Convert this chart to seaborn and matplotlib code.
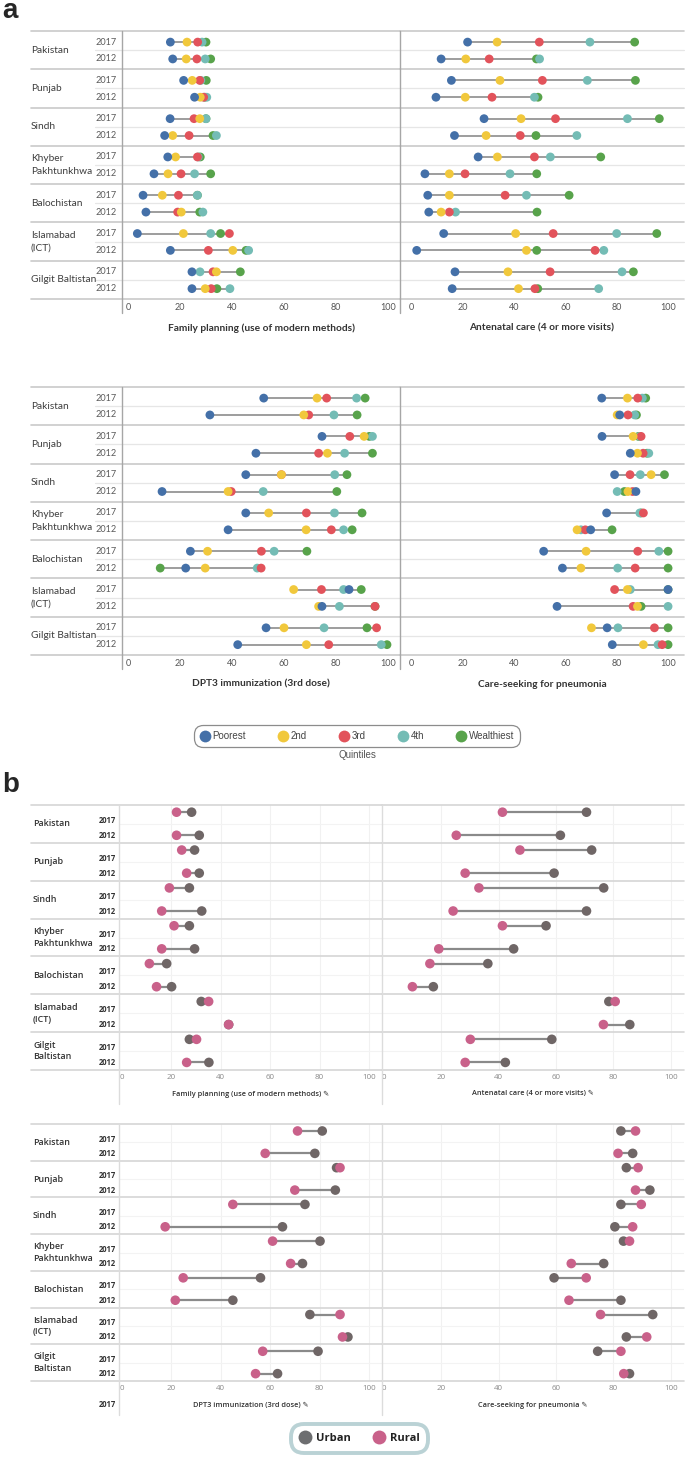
import numpy as np
import pandas as pd
import matplotlib.pyplot as plt
import seaborn as sns
from matplotlib import transforms
from matplotlib.lines import Line2D

nan = np.nan

# categories
regions_a = ["Pakistan", "Punjab", "Sindh", "Khyber\nPakhtunkhwa", "Balochistan",
             "Islamabad\n(ICT)", "Gilgit Baltistan"]
regions_b = ["Pakistan", "Punjab", "Sindh", "Khyber\nPakhtunkhwa", "Balochistan",
             "Islamabad\n(ICT)", "Gilgit\nBaltistan"]
years = ["2017", "2012"]
quintiles = ["Poorest", "2nd", "3rd", "4th", "Wealthiest"]
residence = ["Urban", "Rural"]
ticks = [0, 20, 40, 60, 80, 100]

# every list: Pakistan 2017, Pakistan 2012, Punjab 2017, Punjab 2012, ...
# panel a - family planning
fp = {
    "Poorest": [16.3, 17.2, 21.4, 25.6, 16.2, 14.1, 15.3, 10.0, 5.8, 6.9, 3.6, 16.3, 24.6, 24.6],
    "2nd": [22.7, 22.4, 24.7, 27.8, 27.6, 17.2, 18.3, 15.4, 13.2, 20.5, 21.3, 40.3, 34.0, 29.7],
    "3rd": [26.8, 26.5, 27.6, 29.1, 25.4, 23.5, 26.7, 20.4, 19.4, 19.1, 39.0, 30.9, 32.7, 32.0],
    "4th": [28.5, 29.7, 28.0, 30.3, 30.0, 34.0, 27.0, 25.6, 26.7, 28.8, 31.8, 46.4, 27.7, 39.2],
    "Wealthiest": [30.0, 31.8, 30.1, 29.5, 30.0, 32.7, 27.8, 31.8, 26.7, 27.6, 35.6, 45.4, 43.2, 34.2],
}
# panel a - antenatal care
anc = {
    "Poorest": [22.0, 11.7, 15.7, 9.7, 28.4, 16.9, 26.1, 5.4, 6.5, 6.9, 12.7, 2.2, 17.1, 16.0],
    "2nd": [33.5, 21.3, 34.6, 21.1, 42.8, 29.2, 33.6, 14.9, 14.9, 11.7, 40.7, 44.9, 37.7, 41.8],
    "3rd": [49.9, 30.4, 51.1, 31.5, 56.2, 42.5, 48.0, 21.0, 36.6, 14.9, 55.3, 71.6, 54.1, 48.2],
    "4th": [69.6, 50.0, 68.6, 48.0, 84.2, 64.5, 54.2, 38.5, 44.9, 17.3, 80.0, 75.0, 82.1, 73.0],
    "Wealthiest": [87.0, 48.8, 87.3, 49.4, 96.6, 48.6, 73.8, 48.9, 61.5, 49.0, 95.6, 48.9, 86.5, 49.3],
}
# panel a - DPT3
dpt = {
    "Poorest": [52.2, 31.5, 74.6, 49.2, 45.3, 13.1, 45.3, 38.5, 24.0, 22.2, 85.0, 74.6, 53.1, 42.2],
    "2nd": [72.7, 67.6, 90.8, 76.7, 59.0, 38.5, 54.1, 68.5, 30.6, 29.7, 63.7, 73.3, 60.0, 68.6],
    "3rd": [76.4, 69.5, 85.3, 73.3, 59.0, 39.7, 68.6, 78.2, 51.3, 51.2, 74.4, 95.0, 95.6, 77.2],
    "4th": [87.9, 79.2, 94.0, 83.3, 79.5, 52.0, 79.4, 82.9, 56.2, 49.7, 82.9, 81.3, 75.4, 97.4],
    "Wealthiest": [91.2, 88.1, 92.8, 94.0, 84.2, 80.3, 90.0, 86.2, 68.8, 12.4, 89.7, 95.0, 91.9, 99.6],
}
# panel a - pneumonia
pneu = {
    "Poorest": [74.2, 81.2, 74.3, 85.3, 79.2, 87.5, 76.1, 69.9, 51.6, 58.9, 100.0, 56.8, 76.3, 78.3],
    "2nd": [84.2, 80.2, 86.4, 88.1, 93.4, 84.4, nan, 64.6, 68.1, 66.1, 84.2, 88.1, 70.2, 90.4],
    "3rd": [88.2, 84.4, 89.5, 90.3, 85.2, 86.2, 90.4, 67.8, 88.2, 87.2, 79.2, 86.4, 94.7, 97.7],
    "4th": [90.0, 87.0, 89.0, 92.5, 89.2, 80.2, 89.0, 66.1, 96.4, 80.4, 85.3, 100.0, 80.5, 96.1],
    "Wealthiest": [91.3, 87.7, 88.5, 91.8, 98.6, 83.0, 89.5, 78.2, 100.0, 100.0, 100.0, 89.5, 100.0, 100.0],
}

# panel b - urban / rural
b_fp = {
    "Urban": [28.2, 31.3, 29.4, 31.3, 27.3, 32.3, 27.3, 29.4, 18.1, 20.1, 32.1, 43.2, 27.3, 35.2],
    "Rural": [22.1, 22.1, 24.2, 26.2, 19.2, 16.1, 21.1, 16.1, 11.1, 14.0, 35.1, 43.2, 30.2, 26.2],
}
b_anc = {
    "Urban": [70.6, 61.5, 72.4, 59.3, 76.6, 70.6, 56.5, 45.2, 36.2, 17.2, 78.4, 85.7, 58.5, 42.3],
    "Rural": [41.3, 25.2, 47.4, 28.3, 33.1, 24.1, 41.3, 19.1, 16.0, 9.9, 80.6, 76.5, 30.1, 28.3],
}
b_dpt = {
    "Urban": [81.1, 78.1, 86.9, 86.4, 74.1, 65.0, 80.2, 73.1, 56.1, 44.9, 76.1, 91.5, 79.4, 63.0],
    "Rural": [71.1, 58.0, 88.3, 70.0, 44.9, 17.5, 61.0, 68.3, 24.8, 21.6, 88.3, 89.3, 57.0, 54.1],
}
b_pneu = {
    "Urban": [82.6, 86.7, 84.5, 92.7, 82.6, 80.5, 83.5, 76.6, 59.3, 82.6, 93.7, 84.5, 74.5, 85.6],
    "Rural": [87.7, 81.6, 88.6, 87.7, 89.7, 86.7, 85.6, 65.3, 70.5, 64.5, 75.5, 91.6, 82.6, 83.6],
}

quint_colors = {"Poorest": "#4470a8", "2nd": "#f1c83c", "3rd": "#e2535b",
                "4th": "#74bcb5", "Wealthiest": "#58a34b"}
res_colors = {"Urban": "#6f6666", "Rural": "#c9618a"}

sns.set_theme(style="white")
plt.rcParams["font.family"] = ["Lato", "DejaVu Sans"]

W, H = 685, 1458
fig = plt.figure(figsize=(W / 100, H / 100), dpi=100)


def px_axes(x0, y0, x1, y1):
    ax = fig.add_axes([x0 / W, 1 - y1 / H, (x1 - x0) / W, (y1 - y0) / H])
    ax.set_facecolor("none")
    return ax


def long_frame(series, order, row_pos):
    rows = []
    for k in order:
        for i, v in enumerate(series[k]):
            rows.append({"group": k, "region": i // 2, "year": years[i % 2], "value": v})
    df = pd.DataFrame(rows).dropna()
    df["y"] = df["region"] + df["year"].map(row_pos)
    return df


def panel(box, xlim, df, order, palette, size, lw, lcolor, xlabel, style, labels=None):
    x0, y0, x1, y1 = box
    ax = px_axes(x0, y0, x1, y1)
    hgt = y1 - y0
    # connecting lines, min to max of each row
    g = df.groupby("y")["value"]
    ax.hlines(g.min().index, g.min(), g.max(), color=lcolor, lw=lw, zorder=2)
    sns.scatterplot(data=df, x="value", y="y", hue="group", hue_order=order,
                    palette=palette, s=size, edgecolor="none", linewidth=0,
                    legend=False, ax=ax, zorder=3)
    ax.set_xlim(xlim)
    ax.set_ylim(7, 0)
    ax.set_yticks([])
    ax.set_xticks(ticks)
    ax.set_xlabel("")
    ax.set_ylabel("")
    for s in ax.spines.values():
        s.set_visible(False)
    frac = lambda px: (px - x0) / (x1 - x0)
    left = frac(31) if labels is not None else 0
    if style == "a":
        ax.tick_params(axis="x", length=0, pad=3, labelsize=6.5, labelcolor="#555555")
        for i in range(8):
            ax.axhline(i, xmin=left, xmax=1, color="#c9c9c9", lw=1.2, clip_on=False, zorder=1)
        for i in range(7):
            ax.axhline(i + 0.5, xmin=frac(95) if labels is not None else 0, xmax=1,
                       color="#e6e6e6", lw=0.9, clip_on=False, zorder=1)
        ax.axvline(xlim[0], ymin=-14 / hgt, ymax=1, color="#a6a6a6", lw=1.0, clip_on=False)
        ax.text(0.5, -29 / hgt, xlabel, transform=ax.transAxes, ha="center", va="center",
                fontsize=7.3, fontweight="bold", color="#333333")
    else:
        ax.tick_params(axis="x", length=0, pad=3, labelsize=5.8, labelcolor="#8a8a8a")
        for lab in ax.get_xticklabels():
            lab.set_family(["Open Sans", "DejaVu Sans"])
        for t in ticks[1:]:
            ax.axvline(t, color="#f1f1f1", lw=0.8, zorder=0)
        for i in range(8):
            ax.axhline(i, xmin=left, xmax=1, color="#d6d6d6", lw=1.2, clip_on=False, zorder=1)
        for i in range(7):
            ax.axhline(i + 0.5, color="#f3f3f3", lw=0.8, zorder=0)
        ax.axvline(xlim[0], ymin=-34 / hgt, ymax=1, color="#dcdcdc", lw=1.0, clip_on=False)
        ax.text(0.5, -24 / hgt, xlabel + " \u270e", transform=ax.transAxes, ha="center",
                va="center", fontsize=5.3, fontweight="semibold", color="#333333",
                family=["Open Sans", "DejaVu Sans"])
    if labels is not None:
        tr = transforms.blended_transform_factory(ax.transAxes, ax.transData)
        for i, name in enumerate(labels):
            if style == "a":
                ax.text(frac(31), i + 0.5, name, transform=tr, ha="left", va="center",
                        fontsize=7.3, color="#3d3d3d", linespacing=1.55)
                for yr, off in zip(years, [0.29, 0.73]):
                    ax.text(frac(117), i + off, yr, transform=tr, ha="right", va="center",
                            fontsize=6.6, color="#5a5a5a")
            else:
                ax.text(frac(33), i + 0.5, name, transform=tr, ha="left", va="center",
                        fontsize=6.4, fontweight="semibold", color="#333333", linespacing=1.4,
                        family=["Open Sans", "DejaVu Sans"])
                for yr, off in zip(years, [0.41, 0.80]):
                    ax.text(frac(116), i + off, yr, transform=tr, ha="right", va="center",
                            fontsize=5.5, fontweight="bold", color="#333333",
                            family=["Open Sans", "DejaVu Sans"])
    return ax


pos_a = {"2017": 0.29, "2012": 0.73}
pos_b = {"2017": 0.19, "2012": 0.80}
order_a = quintiles[::-1]  # wealthiest drawn first, poorest on top
order_b = residence

xl_aL, xl_aR = (-2.3, 104.6), (-4.3, 106.2)
xl_bL, xl_bR = (-1.2, 105.3), (-0.7, 104.6)

panel((122, 31, 400, 299), xl_aL, long_frame(fp, order_a, pos_a), order_a, quint_colors,
      40, 1.2, "#8c8c8c", "Family planning (use of modern methods)", "a", regions_a)
panel((400, 31, 684, 299), xl_aR, long_frame(anc, order_a, pos_a), order_a, quint_colors,
      40, 1.2, "#8c8c8c", "Antenatal care (4 or more visits)", "a")
panel((122, 387, 400, 655), xl_aL, long_frame(dpt, order_a, pos_a), order_a, quint_colors,
      40, 1.2, "#8c8c8c", "DPT3 immunization (3rd dose)", "a", regions_a)
panel((400, 387, 684, 655), xl_aR, long_frame(pneu, order_a, pos_a), order_a, quint_colors,
      40, 1.2, "#8c8c8c", "Care-seeking for pneumonia", "a")

panel((119, 805, 382, 1070), xl_bL, long_frame(b_fp, order_b, pos_b), order_b, res_colors,
      48, 1.6, "#8a8a8a", "Family planning (use of modern methods)", "b", regions_b)
panel((382, 805, 684, 1070), xl_bR, long_frame(b_anc, order_b, pos_b), order_b, res_colors,
      48, 1.6, "#8a8a8a", "Antenatal care (4 or more visits)", "b")
axb = panel((119, 1124, 382, 1381), xl_bL, long_frame(b_dpt, order_b, pos_b), order_b, res_colors,
            48, 1.6, "#8a8a8a", "DPT3 immunization (3rd dose)", "b", regions_b)
panel((382, 1124, 684, 1381), xl_bR, long_frame(b_pneu, order_b, pos_b), order_b, res_colors,
      48, 1.6, "#8a8a8a", "Care-seeking for pneumonia", "b")

# stray year label under the last panel of b
trb = transforms.blended_transform_factory(axb.transAxes, axb.transData)
axb.text(-3 / 263, 7.65, "2017", transform=trb, ha="right", va="center", fontsize=5.5,
         fontweight="bold", color="#333333", family=["Open Sans", "DejaVu Sans"])

# legend a
h_a = [Line2D([], [], marker="o", linestyle="", markersize=8.5,
              markerfacecolor=quint_colors[q], markeredgecolor="none") for q in quintiles]
leg_a = fig.legend(h_a, quintiles, ncol=5, loc="center", bbox_to_anchor=(357 / W, 1 - 736 / H),
                   fontsize=7, handletextpad=0.3, columnspacing=3.3, borderpad=0.3,
                   handlelength=1.0, frameon=True, fancybox=True,
                   prop={"family": ["Liberation Sans", "DejaVu Sans"], "size": 7})
fr = leg_a.get_frame()
fr.set_edgecolor("#707070")
fr.set_linewidth(0.9)
fr.set_boxstyle("round,pad=0.3,rounding_size=0.9")
for t in leg_a.get_texts():
    t.set_color("#444444")
fig.text(357 / W, 1 - 755 / H, "Quintiles", ha="center", va="center", fontsize=7,
         color="#555555", family=["Liberation Sans", "DejaVu Sans"])

# legend b
h_b = [Line2D([], [], marker="o", linestyle="", markersize=10,
              markerfacecolor=c, markeredgecolor="none") for c in ["#6d6e70", "#c9618a"]]
leg_b = fig.legend(h_b, residence, ncol=2, loc="center", bbox_to_anchor=(359.5 / W, 1 - 1438.5 / H),
                   handletextpad=0.5, columnspacing=2.0, borderpad=0.5, handlelength=1.0,
                   frameon=True, fancybox=True,
                   prop={"family": ["Open Sans", "DejaVu Sans"], "size": 8, "weight": "bold"})
fr = leg_b.get_frame()
fr.set_edgecolor("#a9c7cb")
fr.set_linewidth(2.8)
fr.set_boxstyle("round,pad=0.3,rounding_size=1.2")
for t in leg_b.get_texts():
    t.set_color("#222222")

fig.text(2 / W, 1 - 11 / H, "a", ha="left", va="center", fontsize=20, fontweight="bold",
         family=["Liberation Sans", "DejaVu Sans"])
fig.text(2 / W, 1 - 785 / H, "b", ha="left", va="center", fontsize=20, fontweight="bold",
         family=["Liberation Sans", "DejaVu Sans"])

fig.savefig("out.png", dpi=100)
